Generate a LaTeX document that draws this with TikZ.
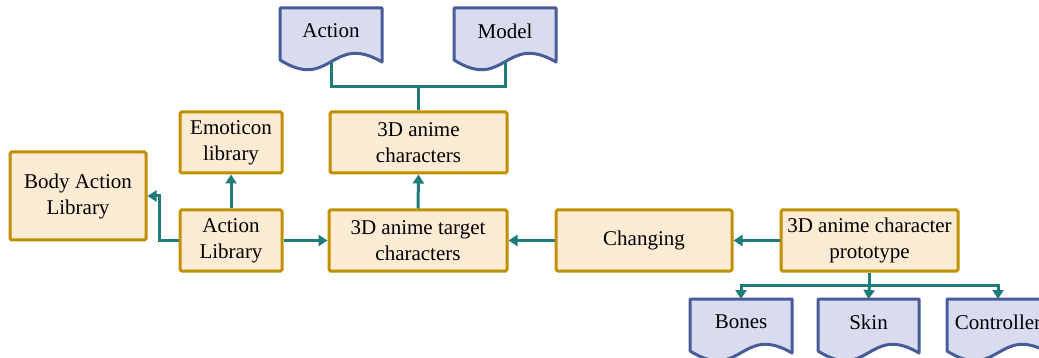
\documentclass[tikz,border=0pt]{standalone}
\usepackage{fontspec}
\setmainfont{Liberation Serif}
\usetikzlibrary{arrows.meta}
\definecolor{boxfill}{HTML}{FDEBD3}
\definecolor{boxline}{HTML}{BF9000}
\definecolor{docfill}{HTML}{D9DCEF}
\definecolor{docline}{HTML}{485C9A}
\definecolor{teal}{HTML}{1E7C79}
\tikzset{
  box/.style={draw=boxline, fill=boxfill, line width=3pt, rounded corners=1.5pt, align=center, inner sep=0pt},
  docst/.style={draw=docline, fill=docfill, line width=3pt, line join=round},
  doctext/.style={inner sep=0pt, align=center},
  conn/.style={draw=teal, line width=3pt},
  arr/.style={conn, -{Triangle[length=9pt,width=11pt]}},
}
\newcommand\mydoc[5]{%
  \draw[docst] (#1,#2) -- ({#1+#3},#2) -- ({#1+#3},{#2+54}) .. controls ({#1+0.5*#3},{#2+24}) and ({#1+0.5*#3},{#2+84}) .. (#1,{#2+52}) -- cycle;
  \node[doctext] (#4) at ({#1+0.5*#3},{#2+23}) {#5};
  \coordinate (#4B) at ({#1+0.5*#3},{#2+53});
  \coordinate (#4T) at ({#1+0.5*#3},#2);
}
\begin{document}
\begin{tikzpicture}[x=1pt,y=-1pt,font=\fontsize{21}{26}\selectfont]
\clip (0,0) rectangle (1039,358);
\fill[white] (0,0) rectangle (1039,358);
% boxes
\node[box, minimum width=136pt, minimum height=88pt] (body) at (78,196) {Body Action\\Library};
\node[box, minimum width=102pt, minimum height=61pt] (emo) at (231,142.5) {Emoticon\\library};
\node[box, minimum width=102pt, minimum height=61pt] (alib) at (231,240.5) {Action\\Library};
\node[box, minimum width=177pt, minimum height=61pt] (chars) at (418.5,142.5) {3D anime\\characters};
\node[box, minimum width=178pt, minimum height=61pt] (target) at (418,240.5) {3D anime target\\characters};
\node[box, minimum width=176pt, minimum height=61pt] (chg) at (644,240.5) {Changing};
\node[box, minimum width=177pt, minimum height=61pt] (proto) at (869.5,240.5) {3D anime character\\prototype};
% documents
\mydoc{280}{8}{102}{act}{Action}
\mydoc{454}{8}{102}{mod}{Model}
\mydoc{690}{299}{102}{bones}{Bones}
\mydoc{818}{299}{101}{skin}{Skin}
\mydoc{947}{299}{102}{ctrl}{Controller}
% connectors
\coordinate (j1) at (418.5,87);
\draw[conn] (actB) |- (j1) -| (modB);
\draw[conn] (j1) -- (chars.north);
\draw[arr] (alib.north) -- (emo.south);
\draw[arr] (alib.west) -- ++(-19,0) |- (body.east);
\draw[arr] (alib.east) -- (target.west);
\draw[arr] (target.north) -- (chars.south);
\draw[arr] (chg.west) -- (target.east);
\draw[arr] (proto.west) -- (chg.east);
\coordinate (j2) at (869.5,285);
\draw[conn] (proto.south) -- (j2);
\draw[arr] (j2) -| (bonesT);
\draw[arr] (j2) -- (skinT);
\draw[arr] (j2) -| (ctrlT);
\end{tikzpicture}
\end{document}
